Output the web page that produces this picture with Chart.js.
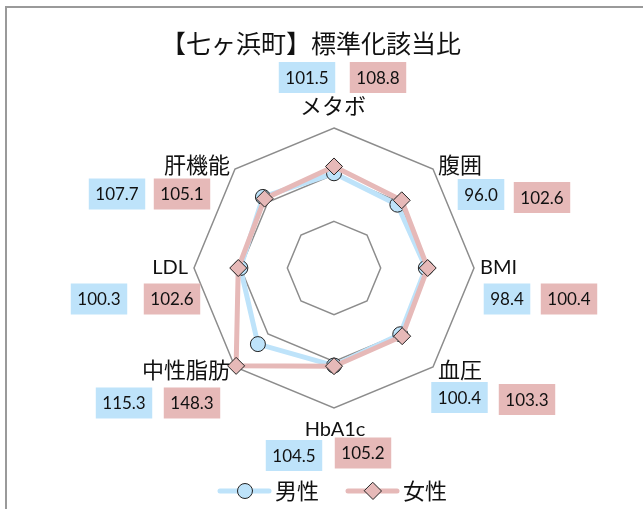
<!DOCTYPE html>
<html>
<head>
<meta charset="utf-8">
<script src="https://cdn.jsdelivr.net/npm/chart.js@4"></script>
<style>
  html, body { margin: 0; padding: 0; background: #fff; }
  #wrap { width: 643px; height: 509px; position: relative; }
</style>
</head>
<body>
<div id="wrap"><canvas id="radarChart"></canvas></div>
<script>
'use strict'

const chartTitle = '【七ヶ浜町】標準化該当比';
const categories = ['メタボ', '腹囲', 'BMI', '血圧', 'HbA1c', '中性脂肪', 'LDL', '肝機能'];
const maleValues = [101.5, 96.0, 98.4, 100.4, 104.5, 115.3, 100.3, 107.7];
const femaleValues = [108.8, 102.6, 100.4, 103.3, 105.2, 148.3, 102.6, 105.1];
const seriesNames = ['男性', '女性'];
const radialTicks = [0, 50, 100, 150];

const BLUE = '#BEE3FA';
const PINK = '#E6B9B8';
const JP = '"Noto Sans CJK JP"';
const LABEL_FONT = '20px Lato, ' + JP;
const JP_FONT = '22px ' + JP;
const NUM_FONT = '17px Lato, ' + JP;

// label placement relative to the outer vertex of each axis: [dx, dy, align]
const labelPlace = [
  [-1, -22, 'center'], [5, -4, 'left'], [6, 0, 'left'], [5, 3, 'left'],
  [1, 22, 'center'], [-5, 3, 'right'], [-6, 0, 'right'], [-5, -4, 'right']
];
// value box centres relative to the outer vertex: [blue dx, dy, pink dx, dy]
const boxPlace = [
  [-27, -50.5, 44, -50.5], [48, 25.5, 109, 28.5], [33, 31, 95, 31], [26.5, 30.5, 94, 32.5],
  [-40, 47.5, 29, 45], [-111, 36, -43, 36], [-95, 31, -22, 31], [-118, 25, -53, 25]
];

function drawMarker(ctx, style, x, y, r, fill) {
  ctx.save();
  ctx.fillStyle = fill;
  ctx.strokeStyle = '#222';
  ctx.lineWidth = 1;
  ctx.beginPath();
  if (style === 'circle') {
    ctx.arc(x, y, r, 0, Math.PI * 2);
  } else {
    ctx.moveTo(x, y - r); ctx.lineTo(x + r, y); ctx.lineTo(x, y + r); ctx.lineTo(x - r, y); ctx.closePath();
  }
  ctx.fill();
  ctx.stroke();
  ctx.restore();
}

const decorPlugin = {
  id: 'decor',
  beforeDraw(chart) {
    const ctx = chart.ctx;
    ctx.save();
    ctx.strokeStyle = '#9a9a9a';
    ctx.lineWidth = 2;
    ctx.beginPath();
    ctx.moveTo(6, chart.height + 5);
    ctx.lineTo(6, 7);
    ctx.lineTo(chart.width + 5, 7);
    ctx.stroke();
    ctx.restore();
  },
  afterDraw(chart) {
    const ctx = chart.ctx;
    const scale = chart.scales.r;
    ctx.save();
    ctx.fillStyle = '#111';

    // title
    ctx.font = '25px ' + JP;
    ctx.textAlign = 'center';
    ctx.textBaseline = 'middle';
    ctx.fillText(chartTitle, 311, 43);

    categories.forEach((cat, i) => {
      const v = scale.getPointPosition(i, scale.drawingArea);
      const p = labelPlace[i];
      ctx.font = /^[A-Za-z0-9]+$/.test(cat) ? LABEL_FONT : JP_FONT;
      ctx.textAlign = p[2];
      ctx.fillStyle = '#111';
      ctx.fillText(cat, v.x + p[0], v.y + p[1]);

      const b = boxPlace[i];
      const vals = [[maleValues[i], BLUE, b[0], b[1]], [femaleValues[i], PINK, b[2], b[3]]];
      ctx.font = NUM_FONT;
      vals.forEach(([val, col, dx, dy]) => {
        const txt = val.toFixed(1);
        const w = ctx.measureText(txt).width + 13;
        const h = 31;
        const cx = v.x + dx, cy = v.y + dy;
        ctx.fillStyle = col;
        ctx.fillRect(cx - w / 2, cy - h / 2, w, h);
        ctx.fillStyle = '#111';
        ctx.textAlign = 'center';
        ctx.fillText(txt, cx, cy + 1);
      });
    });

    // legend
    const ly = 491;
    const items = [
      { x: 220, color: BLUE, style: 'circle', r: 7.5 },
      { x: 348, color: PINK, style: 'rectRot', r: 8.5 }
    ];
    items.forEach((it, k) => {
      ctx.strokeStyle = it.color;
      ctx.lineWidth = 5;
      ctx.lineCap = 'round';
      ctx.beginPath();
      ctx.moveTo(it.x, ly);
      ctx.lineTo(it.x + 49, ly);
      ctx.stroke();
      drawMarker(ctx, it.style, it.x + 25, ly, it.r, it.color);
      ctx.fillStyle = '#111';
      ctx.font = JP_FONT;
      ctx.textAlign = 'left';
      ctx.fillText(seriesNames[k], it.x + 55, ly);
    });
    ctx.restore();
  }
};

new Chart(document.getElementById('radarChart'), {
  type: 'radar',
  data: {
    labels: categories,
    datasets: [{
      label: seriesNames[0],
      data: maleValues,
      borderColor: BLUE,
      backgroundColor: BLUE,
      borderWidth: 5,
      fill: false,
      order: 1,
      pointStyle: 'circle',
      pointRadius: 7.5,
      pointBackgroundColor: BLUE,
      pointBorderColor: '#222',
      pointBorderWidth: 1
    }, {
      label: seriesNames[1],
      data: femaleValues,
      borderColor: PINK,
      backgroundColor: PINK,
      borderWidth: 5,
      fill: false,
      order: 0,
      pointStyle: 'rectRot',
      pointRadius: 8.5,
      pointBackgroundColor: PINK,
      pointBorderColor: '#222',
      pointBorderWidth: 1
    }]
  },
  options: {
    responsive: true,
    maintainAspectRatio: false,
    animation: false,
    layout: { padding: { left: 194, right: 169, top: 128, bottom: 100 } },
    plugins: {
      legend: { display: false },
      title: { display: false },
      tooltip: { enabled: false }
    },
    elements: { line: { tension: 0 } },
    scales: {
      r: {
        min: radialTicks[0],
        max: radialTicks[radialTicks.length - 1],
        ticks: { stepSize: radialTicks[1] - radialTicks[0], display: false },
        grid: { color: '#8c8c8c', lineWidth: 1.5 },
        angleLines: { display: false },
        pointLabels: { display: false }
      }
    }
  },
  plugins: [decorPlugin]
});
</script>
</body>
</html>
